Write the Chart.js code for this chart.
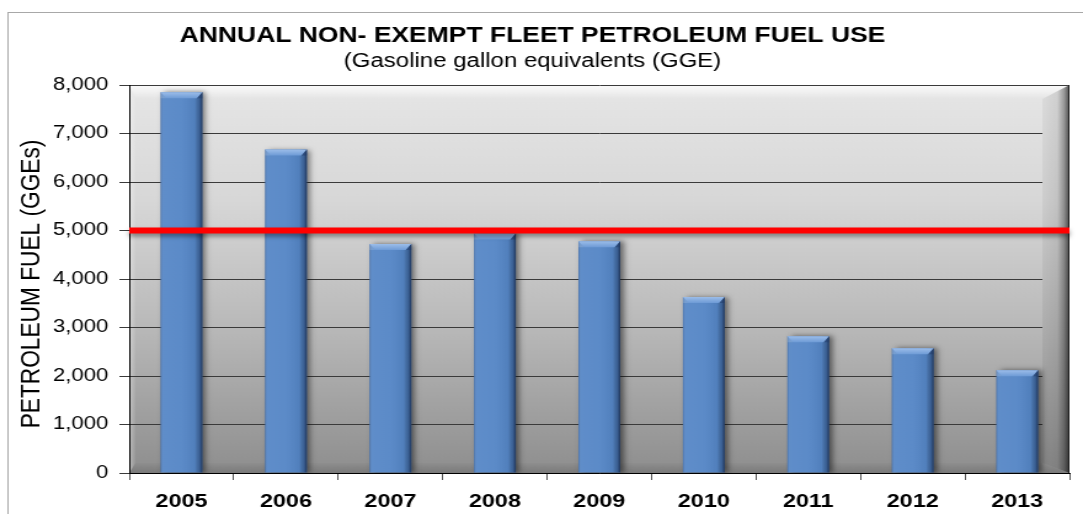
<!DOCTYPE html>
<html>
<head>
<meta charset="utf-8">
<script src="https://cdn.jsdelivr.net/npm/chart.js@4.4.1/dist/chart.umd.min.js"></script>
<style>
  html, body { margin: 0; padding: 0; background: #fff; overflow: hidden; }
  /* the chart is laid out 880px wide and shown stretched across 1083px */
  #wrap { width: 880px; height: 514px; transform: scaleX(1.230682); transform-origin: 0 0; }
  #c { display: block; }
</style>
</head>
<body>
<div id="wrap"><canvas id="c" width="880" height="514"></canvas></div>
<script>
// ---- data ----
const years = ['2005', '2006', '2007', '2008', '2009', '2010', '2011', '2012', '2013'];
const fuelUse = [7850, 6670, 4720, 4940, 4780, 3630, 2820, 2570, 2120];
const targetLevel = 5000;
const yTickValues = [0, 1000, 2000, 3000, 4000, 5000, 6000, 7000, 8000];

const chartTitle = 'ANNUAL NON- EXEMPT FLEET PETROLEUM FUEL USE';
const chartSubtitle = '(Gasoline gallon equivalents (GGE)';
const yAxisTitle = 'PETROLEUM FUEL (GGEs)';

const FONT = '"Liberation Sans", Arial, Helvetica, sans-serif';
Chart.defaults.font.family = FONT;
Chart.defaults.color = '#000';

// ---- frame, wall and bevels behind the grid ----
const wallPlugin = {
  id: 'wall',
  beforeDraw(chart) {
    const { ctx, chartArea: a } = chart;
    ctx.save();
    ctx.fillStyle = '#fff';
    ctx.fillRect(0, 0, chart.width, chart.height);
    // outer frame (runs off the right and bottom edges)
    ctx.strokeStyle = '#a8a8a8';
    ctx.lineWidth = 1;
    ctx.strokeRect(6.5, 12.5, 3000, 3000);

    // back wall
    const g = ctx.createLinearGradient(0, a.top, 0, a.bottom);
    g.addColorStop(0, '#e6e6e6');
    g.addColorStop(0.3, '#d7d7d7');
    g.addColorStop(0.63, '#b8b8b8');
    g.addColorStop(1, '#8e8e8e');
    ctx.fillStyle = g;
    ctx.fillRect(a.left, a.top, a.right - a.left, a.bottom - a.top);

    const th = 14, lw = 5, bh = 10, rw = 22;
    // top bevel
    let tg = ctx.createLinearGradient(0, a.top, 0, a.top + th);
    tg.addColorStop(0, 'rgba(255,255,255,0.85)');
    tg.addColorStop(1, 'rgba(255,255,255,0)');
    ctx.fillStyle = tg;
    ctx.beginPath();
    ctx.moveTo(a.left, a.top); ctx.lineTo(a.right, a.top);
    ctx.lineTo(a.right - rw, a.top + th); ctx.lineTo(a.left + lw, a.top + th);
    ctx.closePath(); ctx.fill();
    // left bevel
    let lg = ctx.createLinearGradient(a.left, 0, a.left + lw, 0);
    lg.addColorStop(0, 'rgba(255,255,255,0.35)');
    lg.addColorStop(1, 'rgba(255,255,255,0.05)');
    ctx.fillStyle = lg;
    ctx.beginPath();
    ctx.moveTo(a.left, a.top); ctx.lineTo(a.left + lw, a.top + th);
    ctx.lineTo(a.left + lw, a.bottom - bh); ctx.lineTo(a.left, a.bottom);
    ctx.closePath(); ctx.fill();
    // bottom bevel
    let bg = ctx.createLinearGradient(0, a.bottom - bh, 0, a.bottom);
    bg.addColorStop(0, 'rgba(0,0,0,0.02)');
    bg.addColorStop(1, 'rgba(0,0,0,0.14)');
    ctx.fillStyle = bg;
    ctx.beginPath();
    ctx.moveTo(a.left, a.bottom); ctx.lineTo(a.left + lw, a.bottom - bh);
    ctx.lineTo(a.right - rw, a.bottom - bh); ctx.lineTo(a.right, a.bottom);
    ctx.closePath(); ctx.fill();
    ctx.restore();
  },
  beforeDatasetsDraw(chart) {
    // right side wall, drawn over the grid ends
    const { ctx, chartArea: a } = chart;
    const th = 14, bh = 10, rw = 22;
    ctx.save();
    ctx.beginPath();
    ctx.moveTo(a.right - rw, a.top + th); ctx.lineTo(a.right, a.top);
    ctx.lineTo(a.right, a.bottom); ctx.lineTo(a.right - rw, a.bottom - bh);
    ctx.closePath();
    const vg = ctx.createLinearGradient(0, a.top, 0, a.bottom);
    vg.addColorStop(0, '#dcdcdc');
    vg.addColorStop(0.3, '#cdcdcd');
    vg.addColorStop(0.63, '#adadad');
    vg.addColorStop(1, '#858585');
    ctx.fillStyle = vg;
    ctx.fill();
    const rg = ctx.createLinearGradient(a.right - rw, 0, a.right, 0);
    rg.addColorStop(0, 'rgba(0,0,0,0)');
    rg.addColorStop(0.55, 'rgba(0,0,0,0.05)');
    rg.addColorStop(0.8, 'rgba(0,0,0,0.3)');
    rg.addColorStop(1, 'rgba(0,0,0,0.65)');
    ctx.fillStyle = rg;
    ctx.fill();
    ctx.strokeStyle = '#1e1e1e';
    ctx.lineWidth = 1;
    ctx.beginPath();
    ctx.moveTo(a.right - 0.5, a.top); ctx.lineTo(a.right - 0.5, a.bottom);
    ctx.stroke();
    ctx.restore();
  }
};

// ---- soft shadow behind the bars ----
const barShadowPlugin = {
  id: 'barShadow',
  beforeDatasetDraw(chart) {
    const ctx = chart.ctx;
    ctx.save();
    ctx.shadowColor = 'rgba(0,0,0,0.5)';
    ctx.shadowBlur = 5;
    ctx.shadowOffsetX = 3;
    ctx.shadowOffsetY = 0;
  },
  afterDatasetDraw(chart) {
    chart.ctx.restore();
  }
};

// ---- bevelled look on each bar ----
const barBevelPlugin = {
  id: 'barBevel',
  afterDatasetsDraw(chart) {
    const ctx = chart.ctx;
    const meta = chart.getDatasetMeta(0);
    ctx.save();
    meta.data.forEach(el => {
      const { x, y, base, width } = el.getProps(['x', 'y', 'base', 'width'], true);
      const l = x - width / 2, r = x + width / 2;
      // side shading
      const hg = ctx.createLinearGradient(l, 0, r, 0);
      hg.addColorStop(0, 'rgba(20,40,80,0.25)');
      hg.addColorStop(0.07, 'rgba(255,255,255,0.06)');
      hg.addColorStop(0.5, 'rgba(255,255,255,0.04)');
      hg.addColorStop(0.82, 'rgba(0,0,0,0.05)');
      hg.addColorStop(0.93, 'rgba(10,25,55,0.35)');
      hg.addColorStop(1, 'rgba(10,20,45,0.7)');
      ctx.fillStyle = hg;
      ctx.fillRect(l, y, width, base - y);
      // top chamfer
      const h = 6, ins = 4.5;
      const tg = ctx.createLinearGradient(0, y, 0, y + h);
      tg.addColorStop(0, '#9cbde9');
      tg.addColorStop(1, '#6e9bd6');
      ctx.fillStyle = tg;
      ctx.beginPath();
      ctx.moveTo(l, y); ctx.lineTo(r, y);
      ctx.lineTo(r - ins, y + h); ctx.lineTo(l + ins, y + h);
      ctx.closePath(); ctx.fill();
      // chamfer corners
      ctx.fillStyle = 'rgba(30,55,100,0.45)';
      ctx.beginPath();
      ctx.moveTo(r, y); ctx.lineTo(r, y + h); ctx.lineTo(r - ins, y + h);
      ctx.closePath(); ctx.fill();
      ctx.fillStyle = 'rgba(255,255,255,0.15)';
      ctx.beginPath();
      ctx.moveTo(l, y); ctx.lineTo(l + ins, y + h); ctx.lineTo(l, y + h);
      ctx.closePath(); ctx.fill();
    });
    ctx.restore();
  }
};

// ---- target line ----
const targetPlugin = {
  id: 'target',
  afterDatasetsDraw(chart) {
    const { ctx, chartArea: a, scales } = chart;
    const yPix = scales.y.getPixelForValue(targetLevel);
    ctx.save();
    ctx.shadowColor = 'rgba(0,0,0,0.4)';
    ctx.shadowBlur = 4;
    ctx.shadowOffsetY = 3;
    ctx.strokeStyle = '#ff0000';
    ctx.lineWidth = 6;
    ctx.beginPath();
    ctx.moveTo(a.left, yPix);
    ctx.lineTo(a.right, yPix);
    ctx.stroke();
    ctx.restore();
  }
};

// ---- heading and value-axis title ----
const headingPlugin = {
  id: 'heading',
  afterDraw(chart) {
    const ctx = chart.ctx;
    ctx.save();
    ctx.fillStyle = '#000';
    ctx.textAlign = 'center';
    ctx.textBaseline = 'alphabetic';
    ctx.font = 'bold 21.5px ' + FONT;
    ctx.fillText(chartTitle, 432.7, 42);
    ctx.font = '19.5px ' + FONT;
    ctx.fillText(chartSubtitle, 432.7, 67);
    // rotated axis title
    ctx.translate(26, 284);
    ctx.rotate(-Math.PI / 2);
    ctx.textBaseline = 'middle';
    ctx.font = '22.7px ' + FONT;
    ctx.fillText(yAxisTitle, 0, 0);
    ctx.restore();
  }
};

new Chart(document.getElementById('c'), {
  type: 'bar',
  data: {
    labels: years,
    datasets: [{
      data: fuelUse,
      backgroundColor: '#5586c6',
      borderWidth: 0,
      categoryPercentage: 0.4,
      barPercentage: 1
    }]
  },
  options: {
    responsive: false,
    animation: false,
    events: [],
    layout: { padding: { left: 6, right: 11, top: 85, bottom: 0 } },
    plugins: {
      legend: { display: false },
      tooltip: { enabled: false },
      title: { display: false }
    },
    scales: {
      x: {
        afterFit(scale) { scale.height = 41; },
        grid: {
          display: true,
          drawOnChartArea: false,
          drawTicks: true,
          tickLength: 7,
          offset: true,
          color: '#555'
        },
        border: { display: true, color: '#000', width: 1 },
        ticks: {
          font: { size: 19, weight: 'bold' },
          color: '#000',
          padding: 10,
          maxRotation: 0,
          autoSkip: false
        }
      },
      y: {
        min: 0,
        max: 8000,
        afterFit(scale) { scale.width = 99; },
        afterBuildTicks(scale) { scale.ticks = yTickValues.map(v => ({ value: v })); },
        grid: {
          color: '#3a3a3a',
          lineWidth: 1,
          tickLength: 8,
          drawTicks: true
        },
        border: { display: true, color: '#000', width: 1 },
        ticks: {
          font: { size: 18 },
          color: '#000',
          padding: 9,
          callback: v => v.toLocaleString('en-US')
        },
        title: { display: false }
      }
    }
  },
  plugins: [wallPlugin, barShadowPlugin, barBevelPlugin, targetPlugin, headingPlugin]
});
</script>
</body>
</html>
